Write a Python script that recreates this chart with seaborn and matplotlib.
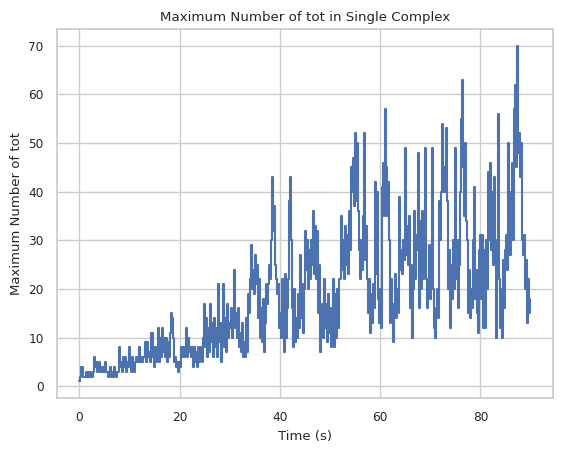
import numpy as np
import pandas as pd
import matplotlib
matplotlib.use("Agg")
import matplotlib.pyplot as plt
import seaborn as sns

# Maximum number of tot in a single complex, sampled every 0.2 s
tot_00_10 = [1, 2, 4, 4, 2, 2, 2, 3, 2, 3, 2, 3, 2, 2, 3, 6, 4, 5, 3, 4,
             5, 3, 4, 3, 4, 3, 5, 3, 3, 2, 3, 4, 2, 3, 2, 4, 3, 2, 3, 3,
             8, 4, 5, 3, 6, 4, 6, 3, 5, 4]
tot_10_20 = [8, 5, 3, 6, 4, 3, 5, 6, 5, 5, 8, 5, 6, 5, 6, 6, 9, 5, 9, 6,
             7, 5, 11, 6, 4, 8, 5, 7, 12, 5, 10, 6, 12, 7, 10, 6, 10, 5, 9, 6,
             11, 15, 14, 10, 5, 6, 4, 5, 3, 5]
tot_20_30 = [4, 8, 6, 8, 6, 7, 12, 6, 10, 7, 8, 6, 8, 4, 8, 5, 7, 4, 8, 5,
             6, 8, 5, 10, 17, 8, 14, 6, 12, 7, 17, 9, 13, 6, 14, 8, 12, 6, 21, 9,
             13, 5, 10, 21, 8, 14, 7, 17, 10, 13]
tot_30_40 = [12, 16, 10, 14, 24, 12, 15, 10, 16, 8, 11, 7, 13, 6, 9, 6, 14, 7, 19, 15,
             22, 29, 20, 24, 19, 27, 21, 25, 14, 22, 10, 16, 9, 18, 7, 13, 21, 17, 21, 25,
             22, 30, 43, 32, 37, 25, 22, 19, 21, 12]
tot_40_50 = [15, 10, 22, 12, 7, 23, 10, 16, 22, 38, 43, 30, 16, 8, 20, 9, 14, 10, 19, 12,
             27, 14, 21, 11, 20, 32, 24, 30, 20, 28, 22, 30, 25, 36, 23, 33, 22, 32, 15, 25,
             7, 14, 17, 10, 22, 12, 17, 9, 19, 11]
tot_50_60 = [16, 8, 14, 22, 8, 19, 10, 20, 12, 22, 22, 35, 24, 30, 22, 33, 25, 31, 23, 36,
             28, 45, 40, 47, 37, 52, 38, 50, 36, 28, 22, 30, 24, 35, 52, 26, 33, 22, 15, 22,
             11, 19, 13, 21, 16, 42, 23, 40, 18, 13]
tot_60_70 = [20, 12, 41, 46, 35, 57, 45, 35, 42, 30, 13, 22, 15, 9, 17, 23, 14, 20, 15, 39,
             24, 28, 23, 30, 26, 49, 27, 33, 25, 35, 16, 25, 10, 20, 36, 22, 31, 28, 48, 16,
             34, 20, 36, 22, 30, 49, 22, 16, 20, 29]
tot_70_80 = [18, 22, 49, 20, 12, 10, 16, 20, 14, 38, 30, 40, 54, 40, 45, 40, 53, 38, 20, 28,
             12, 25, 18, 30, 20, 49, 22, 30, 16, 25, 40, 55, 63, 45, 35, 50, 34, 30, 15, 24,
             14, 20, 16, 30, 41, 18, 24, 15, 11, 28]
tot_80_90 = [31, 18, 31, 12, 28, 12, 30, 20, 44, 30, 46, 28, 40, 25, 43, 30, 10, 25, 56, 22,
             12, 20, 10, 26, 16, 28, 31, 24, 50, 30, 27, 40, 46, 30, 57, 62, 45, 70, 48, 52,
             43, 50, 30, 27, 31, 20, 26, 13, 22, 15, 18]

sample_step = 0.2

values = tot_00_10 + tot_10_20 + tot_20_30 + tot_30_40 + tot_40_50 + \
    tot_50_60 + tot_60_70 + tot_70_80 + tot_80_90
times = np.round(np.arange(len(values)) * sample_step, 2)
df = pd.DataFrame({"Time (s)": times, "Maximum Number of tot": values})

sns.set_theme(style="whitegrid")
plt.rcParams["font.family"] = ["DejaVu Sans"]

fig = plt.figure(figsize=(5.62, 4.53), dpi=100)
ax = fig.add_axes([0.101, 0.121, 0.883, 0.815])
sns.lineplot(data=df, x="Time (s)", y="Maximum Number of tot", ax=ax,
             color="#4c72b0", linewidth=1.5, drawstyle="steps-post")

ax.set_title("Maximum Number of tot in Single Complex", fontsize=9.6)
ax.set_xlabel("Time (s)", fontsize=9.5)
ax.set_ylabel("Maximum Number of tot", fontsize=9.5)
ax.tick_params(axis="both", labelsize=8.7)
ax.set_xticks([0, 20, 40, 60, 80])
ax.set_yticks([0, 10, 20, 30, 40, 50, 60, 70])

fig.savefig("out.png", dpi=100)
